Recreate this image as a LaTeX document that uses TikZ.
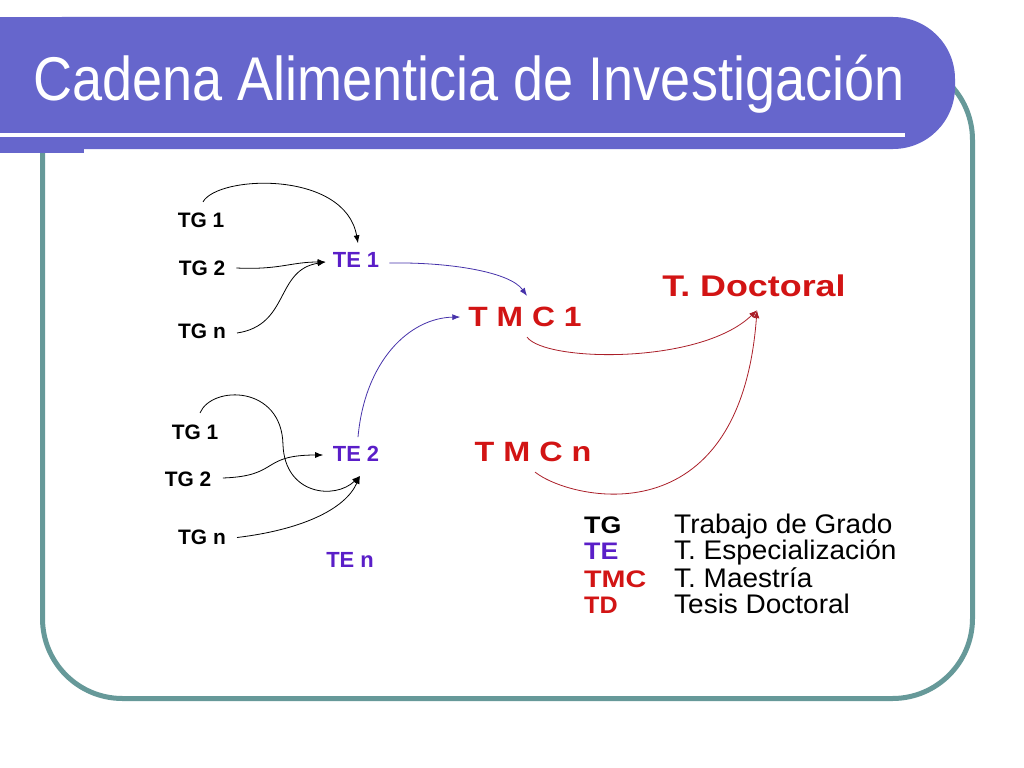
\documentclass[tikz,border=0pt]{standalone}
\usepackage{fontspec}
\setmainfont{Liberation Sans}
\usepackage{graphicx}
\usetikzlibrary{arrows.meta}
\definecolor{bannerc}{RGB}{102,102,204}
\definecolor{framec}{RGB}{102,153,153}
\definecolor{tec}{RGB}{90,30,200}
\definecolor{tmcc}{RGB}{210,20,20}
\definecolor{linkte}{RGB}{70,50,170}
\definecolor{linktd}{RGB}{170,30,40}
\newcommand{\hs}[2]{\scalebox{#1}[1]{#2}}
\tikzset{
  tg/.style={font=\fontsize{21}{24}\selectfont\bfseries, text=black, inner sep=0pt},
  te/.style={font=\fontsize{22}{24}\selectfont\bfseries, text=tec, inner sep=0pt},
  tmc/.style={font=\fontsize{28}{30}\selectfont\bfseries, text=tmcc, inner sep=0pt},
  td/.style={font=\fontsize{30}{32}\selectfont\bfseries, text=tmcc, inner sep=0pt},
  key/.style={font=\fontsize{24}{26}\selectfont\bfseries, inner sep=0pt, anchor=base west},
  desc/.style={font=\fontsize{27}{29}\selectfont, text=black, inner sep=0pt, anchor=base west},
  conn/.style={line width=0.8pt, -{Latex[length=8pt,width=6pt]}},
  blackconn/.style={conn, draw=black},
  teconn/.style={conn, draw=linkte},
  tdconn/.style={conn, draw=linktd},
}
\begin{document}
\begin{tikzpicture}[x=1bp,y=-1bp]
\useasboundingbox[fill=white] (0,0) rectangle (1024,768);
% frame
\draw[framec, line width=5bp, rounded corners=80bp] (42.5,60) rectangle (972.5,698.5);
% banner
\fill[bannerc, rounded corners=62bp] (0,17) rectangle (955,149);
\fill[bannerc] (0,17) rectangle (200,149);
\fill[bannerc] (0,145) rectangle (84,153);
\draw[white, line width=4bp] (0,135) -- (905,135);
\node[anchor=base west, text=white, font=\fontsize{62}{64}\selectfont, inner sep=0pt] (title) at (33,101) {\hs{0.875}{Cadena Alimenticia de Investigación}};

% nodes group 1
\node[tg] (tg1a) at (201,220.5) {TG 1};
\node[tg] (tg2a) at (202,268) {TG 2};
\node[tg] (tgna) at (202,331) {TG n};
\node[te] (te1) at (356,260) {TE 1};
% group 2
\node[tg] (tg1b) at (195,432.5) {TG 1};
\node[tg] (tg2b) at (188,479) {TG 2};
\node[tg] (tgnb) at (202,537.5) {TG n};
\node[te] (te2) at (356,454) {TE 2};
\node[te] (ten) at (350,560) {TE n};
% masters and doctoral
\node[tmc] (tmc1) at (525,317) {\hs{1.14}{T M C 1}};
\node[tmc] (tmcn) at (533,452) {\hs{1.16}{T M C n}};
\node[td] (td) at (754,286) {\hs{1.2}{T. Doctoral}};

% legend
\node[key, text=black] (kTG) at (584,533) {\hs{1.12}{TG}};
\node[key, text=tec] (kTE) at (584,559) {\hs{1.12}{TE}};
\node[key, text=tmcc] (kTMC) at (584,587) {\hs{1.2}{TMC}};
\node[key, text=tmcc] (kTD) at (584,613) {\hs{1.05}{TD}};
\node[desc] (dTG) at (674,533) {\hs{1.04}{Trabajo de Grado}};
\node[desc] (dTE) at (674,559) {\hs{1.04}{T. Especialización}};
\node[desc] (dTMC) at (674,587) {\hs{1.04}{T. Maestría}};
\node[desc] (dTD) at (674,613) {\hs{1.04}{Tesis Doctoral}};

% connectors group 1
\draw[blackconn] ([shift={(2,-11)}]tg1a.north) .. controls (218,175) and (345,170) .. ([shift={(2,-9)}]te1.north);
\draw[blackconn] ([shift={(11,0)}]tg2a.east) .. controls (280,270) and (290,262) .. ([shift={(-7,2)}]te1.west);
\draw[blackconn] ([shift={(11,2)}]tgna.east) .. controls (290,325) and (275,270) .. ([shift={(-7,2)}]te1.west);
% group 2
\draw[blackconn] ([shift={(5,-12)}]tg1b.north) .. controls (212,385) and (282,385) .. (283,445) .. controls (285,495) and (335,500) .. ([shift={(4,14)}]te2.south);
\draw[blackconn] ([shift={(11.5,-1)}]tg2b.east) .. controls (280,476) and (260,455) .. ([shift={(-9.5,1)}]te2.west);
\draw[blackconn] ([shift={(11,0)}]tgnb.east) .. controls (300,530) and (345,510) .. ([shift={(4,14)}]te2.south);
% TE -> TMC
\draw[teconn] ([shift={(10,3)}]te1.east) .. controls (450,262) and (510,272) .. ([shift={(2,-11)}]tmc1.north);
\draw[teconn] ([shift={(2,-9)}]te2.north) .. controls (365,360) and (410,318) .. ([shift={(-8,0)}]tmc1.west);
% TMC -> TD
\draw[tdconn] ([shift={(2,10)}]tmc1.south) .. controls (545,362) and (700,365) .. ([shift={(3,13)}]td.south);
\draw[tdconn] ([shift={(2,10)}]tmcn.south) .. controls (570,500) and (740,540) .. ([shift={(3,13)}]td.south);
\end{tikzpicture}
\end{document}
